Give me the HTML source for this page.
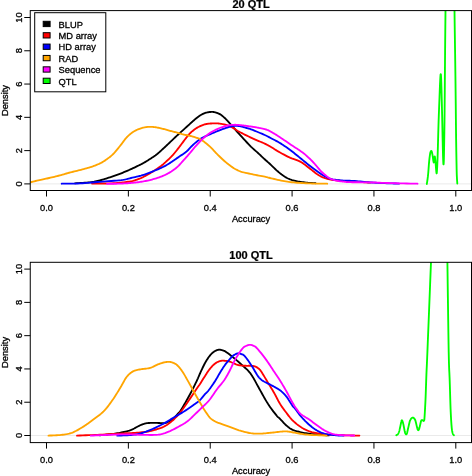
<!DOCTYPE html>
<html><head><meta charset="utf-8"><title>Density plots</title>
<style>
html,body{margin:0;padding:0;background:#fff;}
body{width:472px;height:476px;overflow:hidden;}
svg{display:block;will-change:transform;}
.t{font-family:"Liberation Sans",sans-serif;font-size:9.3px;fill:#000;stroke:#000;stroke-width:0.3px;}
.m{font-family:"Liberation Sans",sans-serif;font-size:11px;font-weight:bold;fill:#000;stroke:#000;stroke-width:0.25px;}
</style></head><body>
<svg width="472" height="476" viewBox="0 0 472 476">
<rect width="472" height="476" fill="#fff"/>
<clipPath id="c1"><rect x="30.25" y="10.6" width="441.25" height="179.9"/></clipPath>
<g clip-path="url(#c1)" fill="none" stroke-width="1.85" stroke-linejoin="round" stroke-linecap="round">
<line x1="30.25" y1="183.9" x2="471.5" y2="183.9" stroke="#dcdcdc" stroke-width="0.6"/>
<path d="M75.00,183.30 L76.91,183.18 L78.87,183.07 L80.84,182.97 L82.81,182.86 L84.74,182.75 L86.60,182.62 L88.36,182.47 L90.00,182.30 L91.49,182.10 L92.85,181.89 L94.12,181.67 L95.31,181.43 L96.47,181.17 L97.62,180.89 L98.78,180.60 L100.00,180.30 L101.24,179.98 L102.47,179.64 L103.70,179.29 L104.92,178.93 L106.16,178.54 L107.42,178.14 L108.69,177.73 L110.00,177.30 L111.35,176.85 L112.73,176.38 L114.14,175.90 L115.57,175.39 L117.00,174.88 L118.42,174.36 L119.83,173.83 L121.20,173.30 L122.54,172.77 L123.87,172.23 L125.18,171.68 L126.48,171.13 L127.78,170.56 L129.08,169.99 L130.38,169.40 L131.70,168.80 L133.05,168.18 L134.43,167.54 L135.83,166.87 L137.23,166.21 L138.61,165.54 L139.94,164.87 L141.21,164.23 L142.40,163.60 L143.50,163.00 L144.53,162.42 L145.49,161.85 L146.42,161.29 L147.32,160.73 L148.20,160.16 L149.09,159.59 L150.00,159.00 L150.92,158.41 L151.81,157.83 L152.70,157.24 L153.59,156.65 L154.47,156.04 L155.37,155.40 L156.27,154.72 L157.20,154.00 L158.15,153.22 L159.13,152.38 L160.12,151.51 L161.11,150.61 L162.11,149.69 L163.09,148.78 L164.06,147.87 L165.00,147.00 L165.92,146.14 L166.83,145.28 L167.73,144.42 L168.61,143.56 L169.48,142.72 L170.34,141.89 L171.18,141.08 L172.00,140.30 L172.79,139.55 L173.55,138.83 L174.29,138.14 L175.02,137.46 L175.74,136.79 L176.47,136.11 L177.22,135.42 L178.00,134.70 L178.81,133.96 L179.64,133.19 L180.50,132.41 L181.36,131.63 L182.22,130.85 L183.06,130.08 L183.90,129.33 L184.70,128.60 L185.48,127.90 L186.24,127.21 L186.99,126.53 L187.73,125.87 L188.46,125.22 L189.18,124.57 L189.89,123.93 L190.60,123.30 L191.30,122.67 L191.99,122.04 L192.67,121.42 L193.34,120.80 L194.01,120.20 L194.68,119.61 L195.34,119.04 L196.00,118.50 L196.66,117.97 L197.32,117.46 L197.98,116.96 L198.64,116.48 L199.29,116.02 L199.93,115.59 L200.57,115.18 L201.20,114.80 L201.81,114.45 L202.40,114.13 L202.99,113.84 L203.56,113.57 L204.14,113.32 L204.74,113.10 L205.35,112.89 L206.00,112.70 L206.69,112.53 L207.42,112.37 L208.17,112.24 L208.94,112.13 L209.70,112.03 L210.44,111.96 L211.14,111.92 L211.80,111.90 L212.40,111.91 L212.96,111.94 L213.49,112.00 L213.99,112.09 L214.49,112.19 L214.98,112.31 L215.48,112.45 L216.00,112.60 L216.53,112.76 L217.07,112.94 L217.61,113.12 L218.15,113.33 L218.69,113.56 L219.23,113.81 L219.77,114.09 L220.30,114.40 L220.83,114.74 L221.36,115.11 L221.88,115.51 L222.41,115.94 L222.93,116.38 L223.45,116.84 L223.98,117.32 L224.50,117.80 L225.00,118.27 L225.45,118.71 L225.89,119.15 L226.33,119.61 L226.81,120.13 L227.35,120.71 L227.97,121.39 L228.70,122.20 L229.53,123.12 L230.42,124.14 L231.39,125.23 L232.42,126.41 L233.52,127.66 L234.68,128.98 L235.91,130.36 L237.20,131.80 L238.62,133.37 L240.19,135.10 L241.86,136.95 L243.57,138.84 L245.29,140.71 L246.95,142.50 L248.50,144.15 L249.90,145.60 L251.14,146.84 L252.28,147.93 L253.34,148.89 L254.33,149.77 L255.27,150.59 L256.18,151.38 L257.09,152.17 L258.00,153.00 L258.91,153.85 L259.81,154.69 L260.68,155.51 L261.52,156.32 L262.35,157.10 L263.16,157.86 L263.94,158.60 L264.70,159.30 L265.41,159.94 L266.05,160.51 L266.65,161.03 L267.24,161.54 L267.84,162.07 L268.48,162.63 L269.19,163.27 L270.00,164.00 L270.91,164.86 L271.90,165.81 L272.95,166.85 L274.05,167.92 L275.17,169.00 L276.30,170.06 L277.42,171.07 L278.50,172.00 L279.56,172.87 L280.63,173.71 L281.69,174.53 L282.76,175.32 L283.82,176.06 L284.88,176.76 L285.94,177.41 L287.00,178.00 L288.04,178.52 L289.06,178.97 L290.06,179.37 L291.07,179.72 L292.09,180.04 L293.15,180.33 L294.25,180.62 L295.40,180.90 L296.63,181.18 L297.92,181.44 L299.26,181.67 L300.63,181.89 L302.01,182.10 L303.38,182.28 L304.71,182.45 L306.00,182.60 L307.24,182.73 L308.45,182.83 L309.64,182.91 L310.82,182.97 L311.99,183.02 L313.15,183.08 L314.32,183.13 L315.50,183.20" stroke="#000000"/>
<path d="M92.00,183.50 L94.30,183.49 L96.66,183.49 L99.06,183.49 L101.44,183.49 L103.76,183.49 L105.99,183.47 L108.08,183.45 L110.00,183.40 L111.71,183.34 L113.25,183.27 L114.65,183.18 L115.95,183.09 L117.20,182.98 L118.43,182.87 L119.68,182.74 L121.00,182.60 L122.38,182.45 L123.77,182.30 L125.18,182.14 L126.58,181.96 L127.95,181.77 L129.29,181.57 L130.58,181.34 L131.80,181.10 L132.96,180.83 L134.07,180.54 L135.14,180.24 L136.16,179.91 L137.16,179.57 L138.12,179.23 L139.07,178.87 L140.00,178.50 L140.90,178.13 L141.74,177.75 L142.56,177.36 L143.35,176.96 L144.14,176.55 L144.93,176.12 L145.75,175.67 L146.60,175.20 L147.49,174.71 L148.39,174.19 L149.32,173.66 L150.25,173.11 L151.19,172.55 L152.13,171.97 L153.07,171.39 L154.00,170.80 L154.94,170.19 L155.89,169.57 L156.85,168.93 L157.81,168.28 L158.76,167.63 L159.68,166.98 L160.56,166.33 L161.40,165.70 L162.18,165.08 L162.92,164.48 L163.62,163.88 L164.30,163.29 L164.96,162.69 L165.63,162.08 L166.30,161.45 L167.00,160.80 L167.71,160.14 L168.42,159.49 L169.13,158.83 L169.84,158.15 L170.56,157.45 L171.30,156.71 L172.04,155.93 L172.80,155.10 L173.58,154.21 L174.37,153.26 L175.18,152.27 L175.99,151.25 L176.82,150.20 L177.64,149.14 L178.47,148.07 L179.30,147.00 L180.15,145.90 L181.02,144.74 L181.92,143.54 L182.81,142.34 L183.68,141.17 L184.51,140.06 L185.29,139.02 L186.00,138.10 L186.62,137.30 L187.17,136.59 L187.67,135.96 L188.13,135.39 L188.57,134.86 L189.01,134.35 L189.48,133.83 L190.00,133.30 L190.56,132.75 L191.14,132.21 L191.73,131.68 L192.33,131.16 L192.94,130.66 L193.54,130.18 L194.13,129.73 L194.70,129.30 L195.25,128.90 L195.79,128.54 L196.31,128.20 L196.83,127.88 L197.35,127.58 L197.89,127.28 L198.43,126.99 L199.00,126.70 L199.59,126.41 L200.19,126.11 L200.80,125.83 L201.43,125.55 L202.06,125.28 L202.70,125.04 L203.35,124.81 L204.00,124.60 L204.65,124.42 L205.29,124.25 L205.94,124.11 L206.59,123.98 L207.27,123.87 L207.97,123.77 L208.71,123.68 L209.50,123.60 L210.35,123.53 L211.27,123.47 L212.23,123.42 L213.22,123.39 L214.21,123.37 L215.18,123.36 L216.12,123.37 L217.00,123.40 L217.82,123.45 L218.61,123.51 L219.36,123.59 L220.09,123.69 L220.82,123.80 L221.54,123.92 L222.26,124.05 L223.00,124.20 L223.76,124.35 L224.52,124.52 L225.29,124.69 L226.06,124.88 L226.82,125.08 L227.57,125.30 L228.30,125.54 L229.00,125.80 L229.67,126.08 L230.31,126.38 L230.94,126.71 L231.54,127.04 L232.15,127.40 L232.75,127.76 L233.37,128.13 L234.00,128.50 L234.60,128.86 L235.13,129.21 L235.64,129.56 L236.17,129.93 L236.76,130.32 L237.45,130.75 L238.28,131.24 L239.30,131.80 L240.53,132.45 L241.95,133.18 L243.52,133.98 L245.19,134.81 L246.91,135.66 L248.65,136.51 L250.36,137.33 L252.00,138.10 L253.63,138.84 L255.32,139.58 L257.04,140.31 L258.75,141.03 L260.41,141.73 L261.98,142.39 L263.42,143.02 L264.70,143.60 L265.79,144.12 L266.70,144.57 L267.48,144.98 L268.17,145.36 L268.83,145.73 L269.49,146.11 L270.20,146.53 L271.00,147.00 L271.86,147.51 L272.72,148.04 L273.59,148.59 L274.49,149.16 L275.42,149.75 L276.39,150.35 L277.41,150.97 L278.50,151.60 L279.67,152.26 L280.91,152.96 L282.21,153.69 L283.55,154.42 L284.92,155.16 L286.29,155.87 L287.66,156.56 L289.00,157.20 L290.36,157.80 L291.79,158.37 L293.24,158.91 L294.67,159.44 L296.07,159.95 L297.40,160.44 L298.62,160.92 L299.70,161.40 L300.62,161.86 L301.40,162.29 L302.08,162.70 L302.69,163.11 L303.25,163.51 L303.80,163.92 L304.37,164.35 L305.00,164.80 L305.64,165.26 L306.25,165.72 L306.85,166.19 L307.46,166.67 L308.09,167.17 L308.76,167.70 L309.49,168.28 L310.30,168.90 L311.20,169.60 L312.18,170.38 L313.22,171.22 L314.30,172.08 L315.41,172.94 L316.52,173.76 L317.62,174.53 L318.70,175.20 L319.74,175.79 L320.77,176.33 L321.79,176.83 L322.81,177.29 L323.85,177.71 L324.92,178.10 L326.04,178.46 L327.20,178.80 L328.38,179.11 L329.55,179.37 L330.74,179.60 L331.98,179.81 L333.27,179.99 L334.66,180.16 L336.16,180.33 L337.80,180.50 L339.62,180.67 L341.62,180.82 L343.75,180.96 L345.96,181.09 L348.20,181.22 L350.44,181.35 L352.62,181.47 L354.70,181.60 L356.69,181.73 L358.64,181.86 L360.55,181.98 L362.45,182.11 L364.33,182.23 L366.21,182.35 L368.10,182.48 L370.00,182.60" stroke="#ff0000"/>
<path d="M61.70,183.70 L63.98,183.67 L66.24,183.66 L68.49,183.64 L70.74,183.63 L73.01,183.61 L75.31,183.57 L77.63,183.50 L80.00,183.40 L82.41,183.26 L84.85,183.09 L87.32,182.90 L89.82,182.69 L92.34,182.46 L94.88,182.24 L97.43,182.01 L100.00,181.80 L102.67,181.60 L105.48,181.39 L108.36,181.19 L111.24,180.98 L114.03,180.77 L116.67,180.56 L119.09,180.33 L121.20,180.10 L122.96,179.86 L124.41,179.62 L125.64,179.37 L126.71,179.12 L127.71,178.86 L128.70,178.58 L129.78,178.30 L131.00,178.00 L132.35,177.69 L133.76,177.37 L135.19,177.05 L136.65,176.71 L138.11,176.36 L139.57,175.99 L141.00,175.61 L142.40,175.20 L143.76,174.77 L145.11,174.32 L146.43,173.85 L147.75,173.36 L149.06,172.86 L150.37,172.35 L151.68,171.83 L153.00,171.30 L154.35,170.76 L155.72,170.19 L157.12,169.62 L158.50,169.03 L159.86,168.44 L161.18,167.85 L162.43,167.27 L163.60,166.70 L164.68,166.15 L165.68,165.60 L166.61,165.07 L167.50,164.53 L168.37,163.99 L169.22,163.44 L170.10,162.88 L171.00,162.30 L171.92,161.70 L172.83,161.09 L173.74,160.47 L174.66,159.83 L175.57,159.19 L176.50,158.53 L177.44,157.87 L178.40,157.20 L179.39,156.52 L180.43,155.82 L181.49,155.12 L182.55,154.40 L183.60,153.68 L184.62,152.95 L185.59,152.23 L186.50,151.50 L187.34,150.76 L188.14,150.00 L188.89,149.22 L189.61,148.45 L190.31,147.69 L190.98,146.95 L191.64,146.25 L192.30,145.60 L192.94,145.00 L193.55,144.43 L194.14,143.90 L194.71,143.39 L195.28,142.91 L195.84,142.43 L196.42,141.97 L197.00,141.50 L197.56,141.05 L198.07,140.63 L198.56,140.23 L199.07,139.83 L199.61,139.43 L200.23,139.02 L200.95,138.58 L201.80,138.10 L202.80,137.58 L203.92,137.03 L205.14,136.45 L206.44,135.86 L207.78,135.26 L209.14,134.66 L210.49,134.07 L211.80,133.50 L213.13,132.93 L214.53,132.35 L215.95,131.76 L217.38,131.18 L218.76,130.62 L220.09,130.10 L221.31,129.62 L222.40,129.20 L223.34,128.84 L224.17,128.54 L224.89,128.28 L225.55,128.06 L226.16,127.86 L226.76,127.67 L227.36,127.49 L228.00,127.30 L228.66,127.11 L229.32,126.93 L229.96,126.75 L230.60,126.59 L231.22,126.45 L231.83,126.31 L232.43,126.20 L233.00,126.10 L233.55,126.02 L234.06,125.96 L234.56,125.92 L235.04,125.89 L235.51,125.87 L236.00,125.87 L236.49,125.88 L237.00,125.90 L237.53,125.93 L238.07,125.98 L238.61,126.04 L239.16,126.11 L239.72,126.19 L240.28,126.28 L240.84,126.39 L241.40,126.50 L241.96,126.62 L242.50,126.76 L243.05,126.91 L243.60,127.07 L244.16,127.24 L244.75,127.42 L245.36,127.60 L246.00,127.80 L246.64,127.99 L247.24,128.15 L247.85,128.32 L248.49,128.50 L249.20,128.71 L250.00,128.97 L250.92,129.30 L252.00,129.70 L253.30,130.21 L254.83,130.82 L256.51,131.51 L258.27,132.24 L260.04,132.98 L261.75,133.71 L263.33,134.39 L264.70,135.00 L265.86,135.53 L266.87,136.01 L267.78,136.46 L268.61,136.89 L269.40,137.31 L270.21,137.74 L271.06,138.20 L272.00,138.70 L273.00,139.22 L274.01,139.74 L275.04,140.27 L276.09,140.82 L277.17,141.40 L278.28,142.01 L279.42,142.68 L280.60,143.40 L281.83,144.19 L283.11,145.03 L284.43,145.93 L285.78,146.86 L287.14,147.83 L288.50,148.81 L289.86,149.80 L291.20,150.80 L292.52,151.81 L293.85,152.85 L295.18,153.91 L296.50,154.98 L297.82,156.06 L299.15,157.15 L300.47,158.23 L301.80,159.30 L303.12,160.37 L304.45,161.45 L305.78,162.54 L307.10,163.62 L308.43,164.69 L309.75,165.75 L311.07,166.79 L312.40,167.80 L313.74,168.80 L315.10,169.81 L316.47,170.81 L317.84,171.79 L319.19,172.74 L320.50,173.63 L321.78,174.45 L323.00,175.20 L324.14,175.86 L325.20,176.46 L326.21,176.99 L327.20,177.47 L328.19,177.90 L329.20,178.30 L330.26,178.66 L331.40,179.00 L332.61,179.30 L333.85,179.56 L335.12,179.77 L336.43,179.96 L337.77,180.11 L339.15,180.25 L340.56,180.38 L342.00,180.50 L343.47,180.60 L344.97,180.67 L346.49,180.72 L348.06,180.76 L349.65,180.79 L351.29,180.84 L352.97,180.90 L354.70,181.00 L356.49,181.14 L358.35,181.30 L360.26,181.49 L362.21,181.68 L364.17,181.88 L366.14,182.07 L368.08,182.25 L370.00,182.40 L371.90,182.53 L373.79,182.65 L375.69,182.76 L377.58,182.86 L379.46,182.96 L381.33,183.04 L383.17,183.12 L385.00,183.20 L386.80,183.27 L388.57,183.33 L390.32,183.38 L392.06,183.42 L393.79,183.47 L395.52,183.51 L397.26,183.55 L399.00,183.60" stroke="#0000ff"/>
<path d="M30.30,182.30 L31.61,181.98 L32.94,181.66 L34.28,181.33 L35.62,181.01 L36.94,180.69 L38.23,180.38 L39.49,180.08 L40.70,179.80 L41.84,179.55 L42.91,179.32 L43.93,179.11 L44.94,178.91 L45.94,178.70 L46.97,178.49 L48.05,178.26 L49.20,178.00 L50.42,177.72 L51.70,177.42 L53.02,177.10 L54.37,176.78 L55.73,176.44 L57.10,176.10 L58.46,175.75 L59.80,175.40 L61.12,175.04 L62.45,174.67 L63.77,174.29 L65.10,173.90 L66.42,173.51 L67.75,173.13 L69.08,172.76 L70.40,172.40 L71.73,172.06 L73.05,171.73 L74.38,171.41 L75.70,171.10 L77.03,170.79 L78.35,170.47 L79.68,170.14 L81.00,169.80 L82.34,169.45 L83.70,169.09 L85.07,168.72 L86.44,168.35 L87.79,167.97 L89.10,167.59 L90.38,167.20 L91.60,166.80 L92.77,166.40 L93.91,165.98 L95.02,165.56 L96.09,165.14 L97.12,164.71 L98.12,164.27 L99.08,163.84 L100.00,163.40 L100.86,162.97 L101.64,162.57 L102.37,162.16 L103.07,161.75 L103.77,161.32 L104.47,160.86 L105.21,160.36 L106.00,159.80 L106.85,159.20 L107.73,158.56 L108.63,157.88 L109.55,157.18 L110.48,156.43 L111.40,155.66 L112.31,154.85 L113.20,154.00 L114.07,153.11 L114.93,152.17 L115.79,151.18 L116.64,150.17 L117.48,149.13 L118.32,148.09 L119.16,147.04 L120.00,146.00 L120.84,144.94 L121.67,143.84 L122.50,142.72 L123.32,141.59 L124.15,140.49 L124.97,139.43 L125.79,138.42 L126.60,137.50 L127.41,136.65 L128.21,135.86 L129.01,135.12 L129.81,134.42 L130.60,133.76 L131.40,133.14 L132.20,132.56 L133.00,132.00 L133.81,131.48 L134.64,131.00 L135.47,130.56 L136.31,130.15 L137.13,129.77 L137.94,129.43 L138.73,129.10 L139.50,128.80 L140.24,128.52 L140.95,128.28 L141.64,128.07 L142.33,127.88 L143.00,127.71 L143.66,127.56 L144.33,127.43 L145.00,127.30 L145.67,127.18 L146.32,127.08 L146.96,126.99 L147.61,126.92 L148.26,126.86 L148.92,126.82 L149.60,126.80 L150.30,126.80 L151.03,126.82 L151.77,126.85 L152.52,126.90 L153.29,126.97 L154.07,127.05 L154.87,127.15 L155.68,127.27 L156.50,127.40 L157.35,127.55 L158.23,127.73 L159.13,127.92 L160.04,128.12 L160.95,128.34 L161.85,128.56 L162.74,128.78 L163.60,129.00 L164.43,129.22 L165.25,129.44 L166.06,129.67 L166.85,129.90 L167.64,130.13 L168.42,130.36 L169.21,130.58 L170.00,130.80 L170.79,131.01 L171.57,131.20 L172.35,131.40 L173.13,131.59 L173.91,131.78 L174.70,131.98 L175.49,132.18 L176.30,132.40 L177.11,132.63 L177.93,132.88 L178.74,133.14 L179.57,133.40 L180.40,133.66 L181.25,133.92 L182.12,134.17 L183.00,134.40 L183.92,134.62 L184.89,134.83 L185.88,135.03 L186.88,135.23 L187.87,135.42 L188.83,135.61 L189.75,135.80 L190.60,136.00 L191.38,136.20 L192.11,136.39 L192.79,136.57 L193.45,136.76 L194.09,136.96 L194.72,137.16 L195.35,137.37 L196.00,137.60 L196.64,137.82 L197.24,138.00 L197.82,138.19 L198.41,138.39 L199.02,138.63 L199.67,138.93 L200.39,139.31 L201.20,139.80 L202.11,140.40 L203.10,141.09 L204.15,141.86 L205.25,142.69 L206.37,143.58 L207.50,144.50 L208.62,145.44 L209.70,146.40 L210.74,147.38 L211.76,148.41 L212.76,149.47 L213.77,150.57 L214.79,151.69 L215.85,152.82 L216.95,153.96 L218.10,155.10 L219.32,156.27 L220.60,157.49 L221.91,158.74 L223.26,159.99 L224.63,161.23 L226.00,162.42 L227.36,163.56 L228.70,164.60 L230.01,165.57 L231.30,166.49 L232.58,167.37 L233.87,168.19 L235.17,168.97 L236.50,169.70 L237.87,170.37 L239.30,171.00 L240.79,171.56 L242.33,172.04 L243.91,172.47 L245.52,172.84 L247.15,173.19 L248.78,173.52 L250.40,173.86 L252.00,174.20 L253.64,174.55 L255.35,174.90 L257.09,175.24 L258.81,175.57 L260.48,175.88 L262.05,176.18 L263.47,176.45 L264.70,176.70 L265.67,176.91 L266.37,177.07 L266.90,177.21 L267.35,177.32 L267.80,177.45 L268.33,177.59 L269.03,177.77 L270.00,178.00 L271.23,178.29 L272.65,178.64 L274.22,179.02 L275.89,179.43 L277.61,179.83 L279.35,180.22 L281.06,180.58 L282.70,180.90 L284.26,181.18 L285.77,181.43 L287.27,181.66 L288.78,181.88 L290.32,182.07 L291.92,182.26 L293.61,182.43 L295.40,182.60 L297.33,182.76 L299.40,182.90 L301.56,183.03 L303.77,183.14 L306.00,183.25 L308.20,183.34 L310.35,183.43 L312.40,183.50 L314.36,183.56 L316.25,183.60 L318.11,183.63 L319.94,183.64 L321.75,183.66 L323.55,183.67 L325.37,183.68 L327.20,183.70" stroke="#ffa500"/>
<path d="M107.00,183.80 L108.79,183.78 L110.61,183.76 L112.43,183.75 L114.25,183.74 L116.05,183.72 L117.82,183.69 L119.54,183.65 L121.20,183.60 L122.81,183.53 L124.38,183.45 L125.91,183.36 L127.40,183.26 L128.86,183.16 L130.27,183.04 L131.66,182.92 L133.00,182.80 L134.30,182.67 L135.54,182.54 L136.74,182.41 L137.90,182.26 L139.04,182.11 L140.16,181.95 L141.28,181.78 L142.40,181.60 L143.52,181.41 L144.61,181.21 L145.70,181.00 L146.77,180.78 L147.83,180.55 L148.89,180.31 L149.94,180.06 L151.00,179.80 L152.06,179.52 L153.13,179.23 L154.20,178.93 L155.27,178.61 L156.32,178.29 L157.34,177.96 L158.34,177.63 L159.30,177.30 L160.22,176.97 L161.10,176.64 L161.96,176.30 L162.79,175.96 L163.61,175.61 L164.41,175.26 L165.21,174.89 L166.00,174.50 L166.79,174.10 L167.56,173.69 L168.32,173.27 L169.07,172.84 L169.82,172.39 L170.55,171.94 L171.28,171.48 L172.00,171.00 L172.71,170.52 L173.42,170.03 L174.12,169.53 L174.81,169.02 L175.49,168.49 L176.16,167.95 L176.84,167.39 L177.50,166.80 L178.14,166.20 L178.75,165.60 L179.34,164.99 L179.93,164.36 L180.54,163.70 L181.17,162.99 L181.86,162.23 L182.60,161.40 L183.43,160.47 L184.36,159.44 L185.33,158.34 L186.34,157.21 L187.34,156.07 L188.30,154.97 L189.20,153.93 L190.00,153.00 L190.71,152.16 L191.35,151.39 L191.93,150.66 L192.47,149.98 L192.99,149.33 L193.49,148.71 L193.99,148.10 L194.50,147.50 L195.01,146.92 L195.50,146.37 L195.98,145.85 L196.45,145.35 L196.91,144.86 L197.37,144.38 L197.83,143.89 L198.30,143.40 L198.77,142.90 L199.23,142.40 L199.68,141.91 L200.14,141.41 L200.59,140.92 L201.06,140.44 L201.52,139.97 L202.00,139.50 L202.48,139.04 L202.97,138.59 L203.46,138.15 L203.95,137.72 L204.45,137.29 L204.96,136.86 L205.47,136.43 L206.00,136.00 L206.53,135.57 L207.07,135.13 L207.61,134.70 L208.16,134.26 L208.72,133.83 L209.29,133.41 L209.89,133.00 L210.50,132.60 L211.14,132.21 L211.82,131.82 L212.51,131.45 L213.22,131.07 L213.93,130.71 L214.64,130.36 L215.33,130.03 L216.00,129.70 L216.64,129.39 L217.27,129.09 L217.89,128.80 L218.49,128.53 L219.10,128.26 L219.72,128.00 L220.35,127.75 L221.00,127.50 L221.68,127.26 L222.39,127.02 L223.11,126.79 L223.84,126.56 L224.56,126.35 L225.27,126.15 L225.95,125.97 L226.60,125.80 L227.20,125.65 L227.77,125.52 L228.31,125.41 L228.83,125.31 L229.35,125.22 L229.88,125.14 L230.42,125.07 L231.00,125.00 L231.60,124.94 L232.21,124.89 L232.83,124.85 L233.46,124.82 L234.10,124.80 L234.75,124.79 L235.42,124.79 L236.10,124.80 L236.80,124.83 L237.52,124.87 L238.26,124.92 L239.01,124.99 L239.76,125.06 L240.51,125.14 L241.26,125.22 L242.00,125.30 L242.73,125.38 L243.45,125.48 L244.16,125.57 L244.88,125.67 L245.60,125.78 L246.32,125.89 L247.06,125.99 L247.80,126.10 L248.55,126.21 L249.31,126.31 L250.08,126.42 L250.86,126.52 L251.64,126.64 L252.42,126.75 L253.21,126.87 L254.00,127.00 L254.81,127.14 L255.65,127.28 L256.50,127.44 L257.36,127.59 L258.20,127.75 L259.01,127.91 L259.78,128.06 L260.50,128.20 L261.16,128.33 L261.78,128.45 L262.36,128.57 L262.91,128.68 L263.44,128.80 L263.96,128.92 L264.48,129.05 L265.00,129.20 L265.51,129.35 L266.00,129.50 L266.47,129.66 L266.94,129.82 L267.41,130.00 L267.91,130.20 L268.43,130.43 L269.00,130.70 L269.61,131.01 L270.26,131.34 L270.93,131.71 L271.62,132.10 L272.33,132.51 L273.05,132.93 L273.77,133.36 L274.50,133.80 L275.20,134.23 L275.88,134.64 L276.55,135.06 L277.23,135.49 L277.96,135.96 L278.74,136.47 L279.62,137.05 L280.60,137.70 L281.71,138.44 L282.93,139.27 L284.25,140.17 L285.62,141.11 L287.03,142.07 L288.44,143.04 L289.84,143.99 L291.20,144.90 L292.56,145.80 L293.98,146.73 L295.41,147.66 L296.84,148.58 L298.22,149.48 L299.53,150.34 L300.73,151.16 L301.80,151.90 L302.71,152.56 L303.48,153.14 L304.14,153.67 L304.73,154.16 L305.27,154.64 L305.81,155.12 L306.38,155.64 L307.00,156.20 L307.67,156.81 L308.37,157.45 L309.07,158.11 L309.77,158.78 L310.46,159.45 L311.14,160.12 L311.79,160.77 L312.40,161.40 L312.97,162.00 L313.51,162.58 L314.02,163.15 L314.52,163.71 L315.00,164.27 L315.49,164.84 L315.99,165.41 L316.50,166.00 L317.03,166.61 L317.56,167.25 L318.10,167.90 L318.64,168.55 L319.19,169.20 L319.73,169.82 L320.27,170.43 L320.80,171.00 L321.33,171.54 L321.85,172.05 L322.38,172.54 L322.90,173.01 L323.42,173.47 L323.95,173.92 L324.47,174.36 L325.00,174.80 L325.53,175.24 L326.07,175.68 L326.61,176.11 L327.15,176.53 L327.69,176.93 L328.23,177.31 L328.77,177.67 L329.30,178.00 L329.83,178.30 L330.35,178.56 L330.88,178.81 L331.40,179.03 L331.92,179.24 L332.45,179.43 L332.97,179.62 L333.50,179.80 L334.02,179.97 L334.52,180.13 L335.02,180.28 L335.53,180.41 L336.04,180.54 L336.59,180.66 L337.17,180.78 L337.80,180.90 L338.48,181.02 L339.21,181.13 L339.97,181.24 L340.76,181.34 L341.57,181.44 L342.38,181.53 L343.20,181.62 L344.00,181.70 L344.71,181.78 L345.30,181.85 L345.84,181.92 L346.42,181.99 L347.10,182.05 L347.95,182.10 L349.06,182.15 L350.50,182.20 L352.31,182.24 L354.45,182.26 L356.84,182.27 L359.41,182.29 L362.08,182.30 L364.79,182.32 L367.45,182.35 L370.00,182.40 L372.42,182.46 L374.79,182.54 L377.13,182.63 L379.50,182.72 L381.93,182.82 L384.46,182.92 L387.14,183.01 L390.00,183.10 L393.08,183.18 L396.35,183.26 L399.76,183.33 L403.28,183.41 L406.86,183.48 L410.45,183.55 L414.01,183.63 L417.50,183.70" stroke="#ff00ff"/>
<path d="M426.80,184.00 L426.89,183.45 L426.98,182.91 L427.06,182.38 L427.15,181.84 L427.24,181.30 L427.32,180.73 L427.41,180.13 L427.50,179.50 L427.59,178.86 L427.67,178.23 L427.75,177.60 L427.84,176.94 L427.92,176.22 L428.01,175.42 L428.10,174.52 L428.20,173.50 L428.30,172.30 L428.41,170.93 L428.52,169.45 L428.63,167.89 L428.75,166.31 L428.86,164.77 L428.98,163.32 L429.10,162.00 L429.22,160.78 L429.35,159.58 L429.48,158.42 L429.61,157.32 L429.74,156.30 L429.87,155.36 L429.99,154.52 L430.10,153.80 L430.20,153.22 L430.30,152.77 L430.39,152.43 L430.48,152.17 L430.56,151.97 L430.64,151.81 L430.72,151.66 L430.80,151.50 L430.88,151.34 L430.96,151.20 L431.03,151.09 L431.11,151.01 L431.18,150.96 L431.25,150.94 L431.33,150.95 L431.40,151.00 L431.47,151.07 L431.55,151.17 L431.62,151.29 L431.69,151.45 L431.76,151.64 L431.84,151.88 L431.92,152.16 L432.00,152.50 L432.09,152.91 L432.19,153.39 L432.30,153.93 L432.41,154.51 L432.51,155.11 L432.62,155.70 L432.71,156.27 L432.80,156.80 L432.88,157.30 L432.95,157.81 L433.01,158.31 L433.07,158.79 L433.13,159.26 L433.18,159.71 L433.24,160.12 L433.30,160.50 L433.36,160.86 L433.43,161.23 L433.49,161.57 L433.56,161.89 L433.62,162.15 L433.68,162.36 L433.74,162.48 L433.80,162.50 L433.85,162.41 L433.90,162.22 L433.95,161.94 L434.00,161.60 L434.05,161.22 L434.10,160.81 L434.15,160.40 L434.20,160.00 L434.26,159.56 L434.32,159.03 L434.38,158.46 L434.44,157.88 L434.51,157.34 L434.57,156.89 L434.64,156.56 L434.70,156.40 L434.76,156.41 L434.82,156.55 L434.89,156.80 L434.95,157.14 L435.01,157.55 L435.07,158.01 L435.14,158.50 L435.20,159.00 L435.26,159.54 L435.32,160.14 L435.39,160.79 L435.45,161.48 L435.51,162.20 L435.57,162.94 L435.64,163.67 L435.70,164.40 L435.76,165.15 L435.83,165.95 L435.89,166.78 L435.96,167.61 L436.02,168.42 L436.08,169.18 L436.14,169.89 L436.20,170.50 L436.25,171.06 L436.31,171.60 L436.36,172.10 L436.41,172.54 L436.45,172.91 L436.50,173.19 L436.55,173.36 L436.60,173.40 L436.65,173.34 L436.70,173.22 L436.74,173.02 L436.79,172.71 L436.84,172.27 L436.89,171.69 L436.94,170.94 L437.00,170.00 L437.06,168.95 L437.13,167.83 L437.20,166.60 L437.27,165.20 L437.34,163.57 L437.42,161.67 L437.51,159.43 L437.60,156.80 L437.70,153.63 L437.80,149.91 L437.92,145.78 L438.03,141.41 L438.15,136.95 L438.27,132.56 L438.39,128.39 L438.50,124.60 L438.61,121.13 L438.73,117.81 L438.84,114.62 L438.96,111.54 L439.07,108.55 L439.18,105.65 L439.29,102.80 L439.40,100.00 L439.51,97.18 L439.61,94.34 L439.72,91.54 L439.82,88.82 L439.93,86.26 L440.02,83.89 L440.12,81.79 L440.20,80.00 L440.28,78.52 L440.35,77.28 L440.41,76.28 L440.47,75.49 L440.53,74.90 L440.58,74.50 L440.64,74.27 L440.70,74.20 L440.76,74.20 L440.82,74.27 L440.87,74.46 L440.93,74.86 L440.99,75.54 L441.05,76.58 L441.12,78.04 L441.20,80.00 L441.29,82.61 L441.38,85.85 L441.49,89.57 L441.59,93.62 L441.70,97.84 L441.81,102.08 L441.91,106.19 L442.00,110.00 L442.09,113.64 L442.17,117.31 L442.24,120.96 L442.32,124.57 L442.39,128.10 L442.46,131.52 L442.53,134.80 L442.60,137.90 L442.67,140.88 L442.73,143.79 L442.80,146.61 L442.86,149.29 L442.92,151.81 L442.98,154.12 L443.04,156.20 L443.10,158.00 L443.15,159.54 L443.21,160.86 L443.26,161.97 L443.31,162.86 L443.35,163.54 L443.40,164.02 L443.45,164.31 L443.50,164.40 L443.55,164.37 L443.60,164.24 L443.65,163.96 L443.69,163.45 L443.74,162.66 L443.79,161.53 L443.85,160.00 L443.90,158.00 L443.96,155.40 L444.02,152.20 L444.09,148.55 L444.16,144.58 L444.22,140.43 L444.29,136.26 L444.35,132.20 L444.40,128.40 L444.45,124.94 L444.49,121.72 L444.52,118.61 L444.56,115.48 L444.59,112.18 L444.62,108.59 L444.66,104.58 L444.70,100.00 L444.75,94.72 L444.79,88.78 L444.84,82.39 L444.89,75.72 L444.95,68.97 L445.00,62.30 L445.05,55.92 L445.10,50.00 L445.15,44.73 L445.19,40.00 L445.24,35.59 L445.28,31.25 L445.33,26.76 L445.38,21.88 L445.44,16.37 L445.50,10.00 L445.57,2.69 L445.65,-5.39 L445.74,-14.05 L445.83,-23.12 L445.92,-32.43 L446.02,-41.80 L446.11,-51.04 L446.20,-60.00" stroke="#00ff00"/>
<path d="M453.80,-60.00 L453.89,-51.16 L453.97,-42.20 L454.06,-33.18 L454.14,-24.19 L454.23,-15.30 L454.32,-6.59 L454.41,1.87 L454.50,10.00 L454.60,17.91 L454.70,25.73 L454.81,33.38 L454.92,40.81 L455.02,47.95 L455.13,54.74 L455.22,61.11 L455.30,67.00 L455.37,72.24 L455.43,76.82 L455.48,80.92 L455.53,84.69 L455.57,88.32 L455.61,91.97 L455.65,95.80 L455.70,100.00 L455.75,104.53 L455.80,109.22 L455.84,114.02 L455.89,118.89 L455.94,123.76 L455.99,128.58 L456.04,133.32 L456.10,137.90 L456.17,142.49 L456.24,147.20 L456.31,151.92 L456.39,156.54 L456.47,160.96 L456.55,165.07 L456.62,168.75 L456.70,171.90 L456.77,174.42 L456.85,176.38 L456.93,177.89 L457.00,179.10 L457.07,180.13 L457.15,181.12 L457.22,182.20 L457.30,183.50" stroke="#00ff00"/>
</g>
<rect x="30.25" y="10.6" width="441.25" height="179.9" fill="none" stroke="#000" stroke-width="1"/>
<line x1="46.50" y1="190.5" x2="46.50" y2="196.5" stroke="#000" stroke-width="1"/>
<text transform="translate(46.50,211.35) scale(1,1.03)" text-anchor="middle" class="t">0.0</text>
<line x1="128.36" y1="190.5" x2="128.36" y2="196.5" stroke="#000" stroke-width="1"/>
<text transform="translate(128.36,211.35) scale(1,1.03)" text-anchor="middle" class="t">0.2</text>
<line x1="210.22" y1="190.5" x2="210.22" y2="196.5" stroke="#000" stroke-width="1"/>
<text transform="translate(210.22,211.35) scale(1,1.03)" text-anchor="middle" class="t">0.4</text>
<line x1="292.08" y1="190.5" x2="292.08" y2="196.5" stroke="#000" stroke-width="1"/>
<text transform="translate(292.08,211.35) scale(1,1.03)" text-anchor="middle" class="t">0.6</text>
<line x1="373.94" y1="190.5" x2="373.94" y2="196.5" stroke="#000" stroke-width="1"/>
<text transform="translate(373.94,211.35) scale(1,1.03)" text-anchor="middle" class="t">0.8</text>
<line x1="455.80" y1="190.5" x2="455.80" y2="196.5" stroke="#000" stroke-width="1"/>
<text transform="translate(455.80,211.35) scale(1,1.03)" text-anchor="middle" class="t">1.0</text>
<line x1="24.25" y1="183.90" x2="30.25" y2="183.90" stroke="#000" stroke-width="1"/>
<text transform="translate(21.7,183.90) rotate(-90) scale(1,1.03)" text-anchor="middle" class="t">0</text>
<line x1="24.25" y1="150.62" x2="30.25" y2="150.62" stroke="#000" stroke-width="1"/>
<text transform="translate(21.7,150.62) rotate(-90) scale(1,1.03)" text-anchor="middle" class="t">2</text>
<line x1="24.25" y1="117.34" x2="30.25" y2="117.34" stroke="#000" stroke-width="1"/>
<text transform="translate(21.7,117.34) rotate(-90) scale(1,1.03)" text-anchor="middle" class="t">4</text>
<line x1="24.25" y1="84.06" x2="30.25" y2="84.06" stroke="#000" stroke-width="1"/>
<text transform="translate(21.7,84.06) rotate(-90) scale(1,1.03)" text-anchor="middle" class="t">6</text>
<line x1="24.25" y1="50.78" x2="30.25" y2="50.78" stroke="#000" stroke-width="1"/>
<text transform="translate(21.7,50.78) rotate(-90) scale(1,1.03)" text-anchor="middle" class="t">8</text>
<line x1="24.25" y1="17.50" x2="30.25" y2="17.50" stroke="#000" stroke-width="1"/>
<text transform="translate(21.7,17.50) rotate(-90) scale(1,1.03)" text-anchor="middle" class="t">10</text>
<text transform="translate(7.5,100.55) rotate(-90) scale(1,1.03)" text-anchor="middle" class="t">Density</text>
<text transform="translate(251,222.30) scale(1,1.03)" text-anchor="middle" class="t">Accuracy</text>
<text transform="translate(251,7.60) scale(1,0.92)" text-anchor="middle" class="m">20 QTL</text>
<rect x="34.7" y="12.7" width="71.1" height="79.1" fill="#fff" stroke="#000" stroke-width="1"/>
<rect x="43.2" y="21.30" width="6.9" height="5.3" fill="#000000" stroke="#000" stroke-width="1"/>
<text transform="translate(58.6,27.70) scale(1,1.03)" class="t">BLUP</text>
<rect x="43.2" y="32.68" width="6.9" height="5.3" fill="#ff0000" stroke="#000" stroke-width="1"/>
<text transform="translate(58.6,39.08) scale(1,1.03)" class="t">MD array</text>
<rect x="43.2" y="44.06" width="6.9" height="5.3" fill="#0000ff" stroke="#000" stroke-width="1"/>
<text transform="translate(58.6,50.46) scale(1,1.03)" class="t">HD array</text>
<rect x="43.2" y="55.44" width="6.9" height="5.3" fill="#ffa500" stroke="#000" stroke-width="1"/>
<text transform="translate(58.6,61.84) scale(1,1.03)" class="t">RAD</text>
<rect x="43.2" y="66.82" width="6.9" height="5.3" fill="#ff00ff" stroke="#000" stroke-width="1"/>
<text transform="translate(58.6,73.22) scale(1,1.03)" class="t">Sequence</text>
<rect x="43.2" y="78.20" width="6.9" height="5.3" fill="#00ff00" stroke="#000" stroke-width="1"/>
<text transform="translate(58.6,84.60) scale(1,1.03)" class="t">QTL</text>
<clipPath id="c2"><rect x="30.25" y="262.3" width="441.25" height="180.3"/></clipPath>
<g clip-path="url(#c2)" fill="none" stroke-width="1.85" stroke-linejoin="round" stroke-linecap="round">
<line x1="30.25" y1="435.5" x2="471.5" y2="435.5" stroke="#dcdcdc" stroke-width="0.6"/>
<path d="M100.00,435.30 L101.25,435.18 L102.50,435.06 L103.75,434.95 L105.00,434.83 L106.25,434.71 L107.50,434.59 L108.75,434.45 L110.00,434.30 L111.25,434.14 L112.49,433.99 L113.72,433.83 L114.96,433.66 L116.21,433.47 L117.46,433.27 L118.72,433.05 L120.00,432.80 L121.31,432.53 L122.66,432.25 L124.02,431.95 L125.39,431.62 L126.75,431.28 L128.08,430.92 L129.37,430.52 L130.60,430.10 L131.79,429.62 L132.98,429.07 L134.14,428.49 L135.27,427.88 L136.34,427.29 L137.35,426.72 L138.27,426.22 L139.10,425.80 L139.80,425.47 L140.38,425.20 L140.87,424.98 L141.30,424.80 L141.70,424.64 L142.09,424.50 L142.52,424.36 L143.00,424.20 L143.51,424.03 L143.99,423.87 L144.47,423.71 L144.96,423.56 L145.49,423.42 L146.08,423.30 L146.74,423.19 L147.50,423.10 L148.37,423.03 L149.34,422.98 L150.39,422.94 L151.50,422.92 L152.64,422.91 L153.78,422.90 L154.91,422.90 L156.00,422.90 L157.09,422.92 L158.22,422.96 L159.36,423.02 L160.50,423.09 L161.61,423.14 L162.66,423.17 L163.63,423.16 L164.50,423.10 L165.26,422.99 L165.92,422.85 L166.50,422.68 L167.03,422.48 L167.52,422.25 L168.00,422.01 L168.49,421.76 L169.00,421.50 L169.52,421.23 L170.04,420.96 L170.54,420.66 L171.03,420.36 L171.52,420.03 L172.01,419.68 L172.50,419.30 L173.00,418.90 L173.50,418.47 L173.99,418.01 L174.48,417.53 L174.97,417.03 L175.47,416.51 L175.97,415.96 L176.48,415.39 L177.00,414.80 L177.50,414.24 L177.98,413.74 L178.44,413.25 L178.92,412.72 L179.43,412.11 L180.00,411.36 L180.65,410.44 L181.40,409.30 L182.28,407.88 L183.29,406.20 L184.38,404.34 L185.53,402.35 L186.69,400.30 L187.83,398.27 L188.91,396.31 L189.90,394.50 L190.82,392.78 L191.71,391.07 L192.57,389.39 L193.40,387.74 L194.19,386.15 L194.94,384.62 L195.64,383.16 L196.30,381.80 L196.90,380.54 L197.43,379.37 L197.92,378.29 L198.36,377.26 L198.78,376.29 L199.19,375.35 L199.59,374.42 L200.00,373.50 L200.41,372.60 L200.80,371.73 L201.18,370.90 L201.54,370.09 L201.91,369.30 L202.27,368.53 L202.63,367.76 L203.00,367.00 L203.38,366.24 L203.75,365.49 L204.12,364.75 L204.50,364.02 L204.88,363.31 L205.25,362.62 L205.62,361.95 L206.00,361.30 L206.38,360.67 L206.75,360.07 L207.12,359.48 L207.50,358.91 L207.88,358.36 L208.25,357.83 L208.62,357.31 L209.00,356.80 L209.37,356.31 L209.74,355.83 L210.10,355.37 L210.47,354.93 L210.84,354.50 L211.21,354.08 L211.60,353.68 L212.00,353.30 L212.41,352.93 L212.84,352.57 L213.28,352.23 L213.72,351.90 L214.17,351.59 L214.61,351.30 L215.06,351.04 L215.50,350.80 L215.94,350.58 L216.38,350.39 L216.81,350.21 L217.25,350.06 L217.69,349.93 L218.12,349.82 L218.56,349.75 L219.00,349.70 L219.44,349.69 L219.88,349.71 L220.31,349.76 L220.75,349.83 L221.19,349.93 L221.62,350.04 L222.06,350.17 L222.50,350.30 L222.91,350.42 L223.27,350.52 L223.62,350.63 L223.97,350.76 L224.37,350.93 L224.82,351.16 L225.35,351.48 L226.00,351.90 L226.77,352.44 L227.65,353.08 L228.61,353.80 L229.64,354.59 L230.70,355.42 L231.78,356.28 L232.85,357.14 L233.90,358.00 L234.93,358.86 L235.99,359.73 L237.05,360.63 L238.12,361.55 L239.19,362.49 L240.27,363.44 L241.34,364.41 L242.40,365.40 L243.45,366.37 L244.50,367.30 L245.55,368.23 L246.60,369.19 L247.65,370.20 L248.70,371.31 L249.75,372.53 L250.80,373.90 L251.86,375.45 L252.92,377.15 L253.98,378.98 L255.04,380.90 L256.11,382.87 L257.17,384.85 L258.24,386.80 L259.30,388.70 L260.36,390.58 L261.43,392.50 L262.49,394.43 L263.55,396.35 L264.61,398.25 L265.68,400.10 L266.74,401.89 L267.80,403.60 L268.90,405.26 L270.04,406.92 L271.20,408.54 L272.35,410.11 L273.46,411.58 L274.51,412.94 L275.47,414.16 L276.30,415.20 L276.97,416.01 L277.50,416.59 L277.92,417.00 L278.28,417.31 L278.63,417.57 L279.00,417.87 L279.44,418.26 L280.00,418.80 L280.67,419.51 L281.41,420.31 L282.21,421.19 L283.04,422.11 L283.89,423.03 L284.74,423.92 L285.59,424.76 L286.40,425.50 L287.18,426.16 L287.93,426.79 L288.67,427.37 L289.42,427.91 L290.18,428.42 L290.97,428.91 L291.81,429.37 L292.70,429.80 L293.64,430.20 L294.62,430.57 L295.63,430.90 L296.68,431.21 L297.76,431.49 L298.88,431.77 L300.02,432.03 L301.20,432.30 L302.38,432.56 L303.55,432.81 L304.74,433.05 L305.98,433.27 L307.27,433.49 L308.66,433.70 L310.16,433.90 L311.80,434.10 L313.61,434.29 L315.58,434.46 L317.68,434.62 L319.86,434.78 L322.09,434.93 L324.33,435.09 L326.54,435.24 L328.70,435.40" stroke="#000000"/>
<path d="M77.00,435.60 L79.90,435.49 L82.82,435.38 L85.76,435.27 L88.69,435.16 L91.59,435.05 L94.46,434.94 L97.27,434.82 L100.00,434.70 L102.66,434.57 L105.28,434.43 L107.85,434.29 L110.38,434.15 L112.85,434.01 L115.28,433.87 L117.66,433.73 L120.00,433.60 L122.30,433.48 L124.56,433.38 L126.78,433.27 L128.96,433.18 L131.07,433.07 L133.12,432.96 L135.10,432.84 L137.00,432.70 L138.79,432.56 L140.48,432.42 L142.08,432.29 L143.62,432.14 L145.13,431.96 L146.63,431.76 L148.14,431.51 L149.70,431.20 L151.32,430.84 L152.98,430.43 L154.65,429.97 L156.32,429.49 L157.95,428.97 L159.53,428.43 L161.02,427.87 L162.40,427.30 L163.66,426.73 L164.80,426.15 L165.86,425.55 L166.86,424.93 L167.83,424.28 L168.79,423.58 L169.77,422.82 L170.80,422.00 L171.86,421.12 L172.92,420.20 L173.98,419.22 L175.04,418.20 L176.11,417.13 L177.17,416.00 L178.24,414.83 L179.30,413.60 L180.36,412.30 L181.43,410.93 L182.49,409.50 L183.55,408.02 L184.61,406.51 L185.68,404.97 L186.74,403.43 L187.80,401.90 L188.90,400.31 L190.04,398.62 L191.20,396.88 L192.35,395.14 L193.46,393.46 L194.51,391.87 L195.47,390.44 L196.30,389.20 L196.99,388.21 L197.54,387.43 L198.00,386.80 L198.39,386.28 L198.75,385.79 L199.12,385.29 L199.52,384.71 L200.00,384.00 L200.54,383.17 L201.11,382.26 L201.71,381.31 L202.31,380.33 L202.92,379.34 L203.53,378.36 L204.12,377.41 L204.70,376.50 L205.26,375.63 L205.81,374.76 L206.35,373.91 L206.88,373.08 L207.41,372.27 L207.94,371.48 L208.47,370.72 L209.00,370.00 L209.53,369.31 L210.07,368.64 L210.60,367.99 L211.13,367.38 L211.66,366.79 L212.18,366.23 L212.69,365.70 L213.20,365.20 L213.69,364.74 L214.17,364.31 L214.64,363.91 L215.10,363.54 L215.56,363.20 L216.03,362.88 L216.51,362.58 L217.00,362.30 L217.51,362.04 L218.03,361.79 L218.56,361.57 L219.10,361.37 L219.64,361.19 L220.17,361.04 L220.69,360.91 L221.20,360.80 L221.69,360.72 L222.16,360.68 L222.61,360.65 L223.07,360.66 L223.53,360.68 L224.00,360.71 L224.48,360.75 L225.00,360.80 L225.55,360.85 L226.12,360.92 L226.71,360.99 L227.32,361.08 L227.93,361.18 L228.53,361.30 L229.13,361.44 L229.70,361.60 L230.26,361.79 L230.81,362.01 L231.35,362.25 L231.89,362.51 L232.42,362.77 L232.95,363.03 L233.47,363.27 L234.00,363.50 L234.52,363.71 L235.04,363.92 L235.56,364.13 L236.07,364.33 L236.59,364.52 L237.09,364.70 L237.60,364.86 L238.10,365.00 L238.59,365.12 L239.07,365.22 L239.55,365.31 L240.02,365.38 L240.50,365.44 L240.98,365.50 L241.48,365.55 L242.00,365.60 L242.54,365.65 L243.11,365.68 L243.68,365.71 L244.27,365.74 L244.86,365.76 L245.45,365.77 L246.03,365.79 L246.60,365.80 L247.16,365.80 L247.72,365.80 L248.28,365.78 L248.83,365.77 L249.38,365.76 L249.93,365.76 L250.47,365.77 L251.00,365.80 L251.53,365.85 L252.06,365.90 L252.59,365.95 L253.11,366.03 L253.63,366.11 L254.13,366.22 L254.62,366.35 L255.10,366.50 L255.56,366.68 L256.01,366.88 L256.45,367.10 L256.88,367.34 L257.29,367.60 L257.70,367.88 L258.10,368.18 L258.50,368.50 L258.86,368.80 L259.18,369.06 L259.47,369.32 L259.76,369.61 L260.08,369.97 L260.44,370.43 L260.87,371.03 L261.40,371.80 L262.03,372.78 L262.75,373.94 L263.54,375.24 L264.38,376.64 L265.25,378.10 L266.12,379.58 L266.98,381.03 L267.80,382.40 L268.60,383.72 L269.41,385.05 L270.23,386.37 L271.04,387.69 L271.84,389.01 L272.64,390.34 L273.43,391.67 L274.20,393.00 L274.95,394.35 L275.68,395.73 L276.39,397.11 L277.10,398.50 L277.81,399.87 L278.52,401.22 L279.25,402.53 L280.00,403.80 L280.77,405.02 L281.56,406.21 L282.36,407.36 L283.17,408.49 L283.98,409.60 L284.79,410.68 L285.60,411.75 L286.40,412.80 L287.18,413.83 L287.93,414.84 L288.67,415.82 L289.42,416.79 L290.18,417.74 L290.97,418.67 L291.81,419.59 L292.70,420.50 L293.66,421.41 L294.67,422.33 L295.73,423.23 L296.81,424.12 L297.92,424.99 L299.02,425.81 L300.12,426.59 L301.20,427.30 L302.26,427.96 L303.33,428.57 L304.39,429.13 L305.46,429.66 L306.52,430.14 L307.58,430.59 L308.64,431.01 L309.70,431.40 L310.73,431.75 L311.71,432.04 L312.67,432.30 L313.64,432.52 L314.64,432.72 L315.70,432.91 L316.84,433.10 L318.10,433.30 L319.45,433.50 L320.87,433.70 L322.36,433.89 L323.91,434.07 L325.53,434.25 L327.22,434.41 L328.98,434.56 L330.80,434.70 L332.76,434.82 L334.87,434.94 L337.10,435.04 L339.37,435.12 L341.63,435.20 L343.83,435.28 L345.90,435.34 L347.80,435.40 L349.51,435.45 L351.08,435.49 L352.55,435.51 L353.94,435.53 L355.29,435.55 L356.63,435.56 L357.99,435.58 L359.40,435.60" stroke="#ff0000"/>
<path d="M117.30,435.60 L119.26,435.52 L121.26,435.46 L123.29,435.41 L125.30,435.35 L127.28,435.28 L129.19,435.19 L131.00,435.06 L132.70,434.90 L134.25,434.70 L135.69,434.48 L137.03,434.24 L138.30,433.97 L139.54,433.67 L140.76,433.35 L142.01,432.99 L143.30,432.60 L144.62,432.17 L145.95,431.71 L147.28,431.21 L148.60,430.69 L149.93,430.14 L151.25,429.57 L152.58,428.99 L153.90,428.40 L155.22,427.80 L156.55,427.18 L157.88,426.54 L159.20,425.89 L160.53,425.22 L161.85,424.53 L163.18,423.82 L164.50,423.10 L165.82,422.35 L167.15,421.58 L168.47,420.78 L169.80,419.96 L171.12,419.14 L172.45,418.32 L173.78,417.50 L175.10,416.70 L176.42,415.92 L177.75,415.14 L179.07,414.38 L180.40,413.61 L181.72,412.84 L183.05,412.05 L184.38,411.24 L185.70,410.40 L187.07,409.50 L188.51,408.52 L189.98,407.51 L191.43,406.49 L192.83,405.50 L194.14,404.57 L195.31,403.72 L196.30,403.00 L197.09,402.43 L197.69,402.00 L198.15,401.66 L198.52,401.38 L198.84,401.11 L199.17,400.82 L199.54,400.46 L200.00,400.00 L200.55,399.42 L201.13,398.77 L201.73,398.05 L202.34,397.31 L202.96,396.56 L203.56,395.83 L204.15,395.13 L204.70,394.50 L205.21,393.95 L205.69,393.46 L206.15,393.00 L206.60,392.57 L207.05,392.12 L207.51,391.65 L207.99,391.11 L208.50,390.50 L209.05,389.79 L209.64,389.01 L210.24,388.18 L210.86,387.31 L211.47,386.43 L212.07,385.55 L212.65,384.70 L213.20,383.90 L213.71,383.13 L214.21,382.38 L214.69,381.65 L215.15,380.92 L215.60,380.21 L216.04,379.50 L216.47,378.80 L216.90,378.10 L217.30,377.43 L217.66,376.79 L218.01,376.17 L218.34,375.56 L218.70,374.92 L219.08,374.24 L219.51,373.51 L220.00,372.70 L220.56,371.80 L221.16,370.81 L221.81,369.76 L222.49,368.68 L223.20,367.58 L223.93,366.49 L224.66,365.42 L225.40,364.40 L226.17,363.39 L227.00,362.35 L227.87,361.30 L228.74,360.28 L229.59,359.30 L230.40,358.40 L231.15,357.59 L231.80,356.90 L232.35,356.35 L232.83,355.91 L233.24,355.57 L233.61,355.31 L233.95,355.09 L234.28,354.90 L234.63,354.71 L235.00,354.50 L235.39,354.28 L235.79,354.07 L236.18,353.88 L236.57,353.71 L236.96,353.56 L237.34,353.44 L237.72,353.35 L238.10,353.30 L238.47,353.29 L238.82,353.31 L239.18,353.37 L239.52,353.46 L239.88,353.57 L240.24,353.70 L240.61,353.84 L241.00,354.00 L241.39,354.13 L241.77,354.24 L242.15,354.33 L242.54,354.46 L242.96,354.65 L243.41,354.93 L243.92,355.34 L244.50,355.90 L245.15,356.63 L245.88,357.51 L246.65,358.51 L247.47,359.61 L248.31,360.77 L249.15,361.97 L249.99,363.19 L250.80,364.40 L251.62,365.67 L252.48,367.07 L253.35,368.53 L254.22,370.01 L255.06,371.45 L255.85,372.80 L256.57,374.00 L257.20,375.00 L257.72,375.78 L258.13,376.39 L258.48,376.86 L258.77,377.24 L259.05,377.55 L259.33,377.84 L259.64,378.14 L260.00,378.50 L260.38,378.87 L260.73,379.21 L261.08,379.54 L261.45,379.85 L261.86,380.17 L262.34,380.51 L262.91,380.88 L263.60,381.30 L264.42,381.76 L265.36,382.25 L266.39,382.77 L267.49,383.31 L268.63,383.87 L269.78,384.44 L270.91,385.02 L272.00,385.60 L273.08,386.18 L274.18,386.78 L275.29,387.38 L276.41,387.99 L277.50,388.62 L278.56,389.26 L279.56,389.92 L280.50,390.60 L281.38,391.32 L282.24,392.08 L283.05,392.87 L283.82,393.68 L284.54,394.47 L285.22,395.23 L285.84,395.95 L286.40,396.60 L286.88,397.17 L287.26,397.66 L287.57,398.10 L287.84,398.52 L288.09,398.93 L288.35,399.37 L288.64,399.85 L289.00,400.40 L289.42,401.04 L289.87,401.76 L290.36,402.53 L290.85,403.31 L291.34,404.09 L291.83,404.83 L292.28,405.51 L292.70,406.10 L293.06,406.55 L293.35,406.89 L293.61,407.14 L293.86,407.37 L294.13,407.61 L294.44,407.92 L294.82,408.33 L295.30,408.90 L295.86,409.63 L296.48,410.48 L297.16,411.43 L297.88,412.44 L298.65,413.50 L299.46,414.58 L300.32,415.66 L301.20,416.70 L302.14,417.75 L303.14,418.84 L304.20,419.95 L305.29,421.07 L306.41,422.17 L307.52,423.24 L308.62,424.26 L309.70,425.20 L310.75,426.08 L311.80,426.93 L312.85,427.73 L313.90,428.49 L314.95,429.21 L316.00,429.89 L317.05,430.52 L318.10,431.10 L319.14,431.63 L320.17,432.09 L321.19,432.51 L322.21,432.89 L323.25,433.23 L324.33,433.54 L325.44,433.83 L326.60,434.10 L327.85,434.35 L329.20,434.57 L330.61,434.76 L332.03,434.93 L333.44,435.07 L334.80,435.19 L336.06,435.30 L337.20,435.40 L338.20,435.48 L339.10,435.53 L339.91,435.56 L340.66,435.57 L341.38,435.57 L342.10,435.58 L342.83,435.58 L343.60,435.60" stroke="#0000ff"/>
<path d="M48.50,435.60 L50.10,435.52 L51.72,435.46 L53.35,435.40 L54.98,435.34 L56.59,435.27 L58.17,435.17 L59.71,435.05 L61.20,434.90 L62.63,434.73 L64.00,434.56 L65.33,434.37 L66.63,434.16 L67.92,433.91 L69.20,433.60 L70.49,433.24 L71.80,432.80 L73.12,432.28 L74.45,431.69 L75.77,431.04 L77.10,430.33 L78.42,429.59 L79.75,428.81 L81.08,428.01 L82.40,427.20 L83.73,426.37 L85.05,425.50 L86.38,424.61 L87.70,423.68 L89.03,422.73 L90.35,421.77 L91.68,420.79 L93.00,419.80 L94.34,418.80 L95.70,417.80 L97.07,416.78 L98.44,415.74 L99.79,414.68 L101.10,413.59 L102.38,412.47 L103.60,411.30 L104.76,410.10 L105.86,408.87 L106.92,407.62 L107.94,406.33 L108.95,405.01 L109.96,403.65 L110.97,402.25 L112.00,400.80 L113.06,399.28 L114.13,397.67 L115.21,396.01 L116.28,394.32 L117.34,392.62 L118.37,390.95 L119.36,389.34 L120.30,387.80 L121.18,386.31 L122.01,384.82 L122.80,383.36 L123.57,381.94 L124.32,380.57 L125.06,379.28 L125.82,378.09 L126.60,377.00 L127.39,376.03 L128.17,375.15 L128.94,374.37 L129.73,373.66 L130.52,373.02 L131.32,372.43 L132.15,371.90 L133.00,371.40 L133.87,370.96 L134.76,370.61 L135.66,370.32 L136.57,370.08 L137.51,369.88 L138.48,369.69 L139.47,369.50 L140.50,369.30 L141.58,369.11 L142.72,368.97 L143.90,368.84 L145.09,368.73 L146.29,368.60 L147.47,368.45 L148.61,368.25 L149.70,368.00 L150.75,367.67 L151.80,367.27 L152.84,366.83 L153.84,366.36 L154.81,365.89 L155.71,365.44 L156.55,365.04 L157.30,364.70 L157.95,364.43 L158.50,364.21 L158.98,364.02 L159.41,363.86 L159.80,363.71 L160.18,363.58 L160.57,363.44 L161.00,363.30 L161.45,363.15 L161.89,363.01 L162.33,362.87 L162.76,362.74 L163.20,362.61 L163.63,362.50 L164.06,362.39 L164.50,362.30 L164.94,362.22 L165.39,362.14 L165.83,362.08 L166.28,362.02 L166.72,361.98 L167.16,361.94 L167.59,361.92 L168.00,361.90 L168.40,361.89 L168.79,361.89 L169.16,361.89 L169.53,361.91 L169.90,361.93 L170.26,361.97 L170.63,362.03 L171.00,362.10 L171.37,362.19 L171.74,362.28 L172.10,362.39 L172.47,362.52 L172.84,362.66 L173.21,362.82 L173.60,363.00 L174.00,363.20 L174.40,363.40 L174.80,363.59 L175.20,363.79 L175.61,364.01 L176.04,364.28 L176.49,364.60 L176.98,365.00 L177.50,365.50 L178.06,366.08 L178.64,366.71 L179.26,367.40 L179.89,368.16 L180.56,368.99 L181.25,369.90 L181.96,370.91 L182.70,372.00 L183.49,373.24 L184.33,374.64 L185.21,376.15 L186.11,377.72 L187.00,379.33 L187.88,380.90 L188.72,382.41 L189.50,383.80 L190.22,385.08 L190.89,386.30 L191.52,387.47 L192.14,388.60 L192.74,389.72 L193.34,390.83 L193.96,391.95 L194.60,393.10 L195.27,394.29 L195.97,395.52 L196.69,396.77 L197.40,398.01 L198.10,399.22 L198.78,400.39 L199.41,401.49 L200.00,402.50 L200.53,403.42 L201.01,404.26 L201.46,405.04 L201.88,405.77 L202.29,406.47 L202.68,407.15 L203.09,407.82 L203.50,408.50 L203.92,409.17 L204.33,409.82 L204.73,410.45 L205.13,411.07 L205.53,411.68 L205.94,412.28 L206.36,412.89 L206.80,413.50 L207.24,414.13 L207.69,414.77 L208.15,415.42 L208.61,416.07 L209.09,416.70 L209.58,417.30 L210.08,417.87 L210.60,418.40 L211.15,418.88 L211.73,419.34 L212.34,419.76 L212.95,420.16 L213.56,420.53 L214.17,420.87 L214.75,421.20 L215.30,421.50 L215.77,421.76 L216.15,421.95 L216.49,422.11 L216.83,422.26 L217.22,422.40 L217.69,422.58 L218.31,422.80 L219.10,423.10 L220.10,423.47 L221.27,423.90 L222.58,424.36 L223.97,424.86 L225.43,425.38 L226.89,425.90 L228.33,426.41 L229.70,426.90 L231.03,427.38 L232.35,427.88 L233.68,428.38 L235.01,428.88 L236.33,429.37 L237.66,429.84 L238.98,430.29 L240.30,430.70 L241.62,431.09 L242.93,431.47 L244.24,431.82 L245.55,432.16 L246.86,432.47 L248.17,432.75 L249.48,433.00 L250.80,433.20 L252.12,433.36 L253.44,433.48 L254.77,433.57 L256.09,433.62 L257.42,433.64 L258.75,433.65 L260.07,433.63 L261.40,433.60 L262.72,433.54 L264.05,433.45 L265.38,433.33 L266.70,433.19 L268.02,433.04 L269.35,432.89 L270.67,432.74 L272.00,432.60 L273.36,432.46 L274.76,432.30 L276.18,432.14 L277.59,431.98 L278.97,431.83 L280.28,431.69 L281.50,431.58 L282.60,431.50 L283.55,431.45 L284.35,431.41 L285.05,431.39 L285.69,431.39 L286.31,431.41 L286.96,431.45 L287.68,431.51 L288.50,431.60 L289.42,431.72 L290.37,431.87 L291.37,432.06 L292.41,432.26 L293.48,432.47 L294.59,432.69 L295.73,432.90 L296.90,433.10 L298.06,433.30 L299.20,433.51 L300.34,433.72 L301.53,433.94 L302.81,434.15 L304.20,434.35 L305.75,434.53 L307.50,434.70 L309.48,434.85 L311.68,434.97 L314.04,435.09 L316.52,435.19 L319.06,435.29 L321.63,435.39 L324.15,435.49 L326.60,435.60" stroke="#ffa500"/>
<path d="M90.80,435.60 L93.23,435.50 L95.70,435.39 L98.18,435.29 L100.66,435.18 L103.11,435.08 L105.50,434.98 L107.80,434.89 L110.00,434.80 L112.07,434.72 L114.02,434.63 L115.88,434.55 L117.69,434.47 L119.47,434.40 L121.26,434.35 L123.10,434.31 L125.00,434.30 L126.96,434.32 L128.95,434.37 L130.96,434.44 L132.98,434.52 L135.02,434.61 L137.07,434.69 L139.13,434.76 L141.20,434.80 L143.32,434.84 L145.52,434.89 L147.76,434.94 L150.00,434.97 L152.19,434.98 L154.30,434.95 L156.28,434.86 L158.10,434.70 L159.73,434.47 L161.19,434.19 L162.54,433.85 L163.79,433.47 L165.00,433.06 L166.20,432.60 L167.42,432.11 L168.70,431.60 L170.04,431.04 L171.40,430.43 L172.77,429.77 L174.13,429.09 L175.48,428.38 L176.80,427.68 L178.08,426.98 L179.30,426.30 L180.46,425.66 L181.57,425.04 L182.64,424.43 L183.68,423.82 L184.70,423.19 L185.72,422.51 L186.75,421.79 L187.80,421.00 L188.88,420.11 L189.99,419.13 L191.11,418.09 L192.23,417.01 L193.32,415.94 L194.37,414.89 L195.37,413.90 L196.30,413.00 L197.13,412.21 L197.88,411.50 L198.57,410.84 L199.22,410.22 L199.86,409.60 L200.52,408.96 L201.23,408.27 L202.00,407.50 L202.84,406.68 L203.73,405.84 L204.64,404.98 L205.58,404.08 L206.54,403.14 L207.50,402.15 L208.45,401.11 L209.40,400.00 L210.35,398.79 L211.30,397.48 L212.27,396.09 L213.24,394.66 L214.20,393.23 L215.15,391.82 L216.09,390.46 L217.00,389.20 L217.90,388.03 L218.80,386.91 L219.68,385.84 L220.56,384.81 L221.41,383.79 L222.24,382.77 L223.04,381.75 L223.80,380.70 L224.51,379.67 L225.15,378.69 L225.76,377.74 L226.35,376.77 L226.94,375.76 L227.55,374.68 L228.19,373.51 L228.90,372.20 L229.67,370.72 L230.48,369.08 L231.33,367.32 L232.19,365.50 L233.08,363.67 L233.96,361.87 L234.84,360.17 L235.70,358.60 L236.57,357.12 L237.48,355.65 L238.40,354.22 L239.31,352.86 L240.19,351.58 L241.03,350.41 L241.81,349.37 L242.50,348.50 L243.09,347.81 L243.60,347.31 L244.04,346.95 L244.44,346.69 L244.81,346.51 L245.18,346.36 L245.57,346.20 L246.00,346.00 L246.46,345.77 L246.93,345.56 L247.41,345.36 L247.89,345.18 L248.37,345.03 L248.85,344.91 L249.33,344.84 L249.80,344.80 L250.27,344.81 L250.73,344.86 L251.19,344.94 L251.66,345.06 L252.12,345.20 L252.58,345.38 L253.04,345.58 L253.50,345.80 L253.93,346.00 L254.31,346.17 L254.68,346.34 L255.05,346.55 L255.46,346.83 L255.94,347.23 L256.51,347.77 L257.20,348.50 L258.03,349.43 L258.99,350.55 L260.04,351.80 L261.15,353.17 L262.30,354.62 L263.46,356.12 L264.60,357.62 L265.70,359.10 L266.78,360.61 L267.89,362.22 L269.01,363.88 L270.12,365.57 L271.21,367.24 L272.26,368.86 L273.27,370.39 L274.20,371.80 L275.05,373.06 L275.83,374.21 L276.55,375.26 L277.23,376.27 L277.90,377.26 L278.57,378.27 L279.26,379.34 L280.00,380.50 L280.77,381.74 L281.56,383.03 L282.36,384.36 L283.17,385.71 L283.98,387.09 L284.79,388.49 L285.60,389.89 L286.40,391.30 L287.21,392.75 L288.03,394.28 L288.86,395.85 L289.68,397.41 L290.49,398.95 L291.27,400.41 L292.01,401.78 L292.70,403.00 L293.33,404.08 L293.92,405.05 L294.46,405.93 L294.98,406.73 L295.48,407.48 L295.98,408.20 L296.48,408.90 L297.00,409.60 L297.50,410.28 L297.96,410.91 L298.40,411.51 L298.84,412.08 L299.32,412.64 L299.86,413.20 L300.47,413.78 L301.20,414.40 L302.05,415.04 L303.00,415.69 L304.04,416.34 L305.14,417.01 L306.27,417.68 L307.40,418.37 L308.52,419.08 L309.60,419.80 L310.65,420.55 L311.70,421.34 L312.75,422.14 L313.80,422.96 L314.85,423.77 L315.90,424.57 L316.95,425.35 L318.00,426.10 L319.05,426.83 L320.10,427.55 L321.15,428.26 L322.20,428.96 L323.25,429.62 L324.30,430.26 L325.35,430.85 L326.40,431.40 L327.44,431.90 L328.46,432.36 L329.47,432.79 L330.49,433.17 L331.52,433.53 L332.57,433.85 L333.66,434.14 L334.80,434.40 L336.00,434.62 L337.25,434.79 L338.54,434.92 L339.85,435.02 L341.17,435.11 L342.48,435.17 L343.76,435.24 L345.00,435.30 L346.20,435.36 L347.37,435.40 L348.52,435.43 L349.66,435.44 L350.79,435.46 L351.92,435.47 L353.06,435.48 L354.20,435.50" stroke="#ff00ff"/>
<path d="M396.30,435.30 L396.52,435.15 L396.74,435.01 L396.96,434.88 L397.18,434.75 L397.40,434.60 L397.61,434.44 L397.81,434.24 L398.00,434.00 L398.18,433.72 L398.34,433.42 L398.50,433.08 L398.64,432.72 L398.79,432.35 L398.93,431.95 L399.06,431.53 L399.20,431.10 L399.34,430.65 L399.47,430.17 L399.59,429.66 L399.72,429.14 L399.84,428.61 L399.96,428.07 L400.08,427.54 L400.20,427.00 L400.32,426.45 L400.44,425.86 L400.56,425.26 L400.68,424.66 L400.80,424.07 L400.91,423.52 L401.01,423.03 L401.10,422.60 L401.18,422.24 L401.26,421.94 L401.32,421.68 L401.38,421.46 L401.44,421.27 L401.49,421.10 L401.55,420.95 L401.60,420.80 L401.65,420.66 L401.70,420.54 L401.75,420.44 L401.79,420.36 L401.84,420.31 L401.89,420.28 L401.94,420.27 L402.00,420.30 L402.06,420.36 L402.13,420.44 L402.20,420.55 L402.28,420.68 L402.35,420.84 L402.43,421.03 L402.51,421.25 L402.60,421.50 L402.69,421.76 L402.77,422.02 L402.85,422.29 L402.94,422.60 L403.04,422.96 L403.15,423.38 L403.27,423.89 L403.40,424.50 L403.56,425.27 L403.74,426.21 L403.95,427.27 L404.16,428.38 L404.37,429.48 L404.56,430.51 L404.75,431.40 L404.90,432.10 L405.03,432.60 L405.13,432.97 L405.23,433.22 L405.31,433.39 L405.38,433.50 L405.45,433.59 L405.52,433.68 L405.60,433.80 L405.68,433.94 L405.75,434.06 L405.83,434.17 L405.90,434.26 L405.97,434.33 L406.05,434.38 L406.12,434.40 L406.20,434.40 L406.28,434.38 L406.37,434.34 L406.45,434.28 L406.54,434.19 L406.63,434.08 L406.72,433.93 L406.81,433.74 L406.90,433.50 L406.99,433.24 L407.06,432.97 L407.14,432.67 L407.22,432.33 L407.31,431.93 L407.41,431.45 L407.54,430.88 L407.70,430.20 L407.90,429.33 L408.14,428.27 L408.41,427.08 L408.69,425.83 L408.98,424.58 L409.25,423.42 L409.49,422.40 L409.70,421.60 L409.86,421.02 L410.00,420.60 L410.11,420.30 L410.21,420.09 L410.30,419.94 L410.39,419.82 L410.49,419.68 L410.60,419.50 L410.72,419.29 L410.85,419.10 L410.97,418.92 L411.10,418.75 L411.23,418.59 L411.35,418.45 L411.48,418.32 L411.60,418.20 L411.72,418.10 L411.83,418.00 L411.94,417.93 L412.05,417.86 L412.16,417.81 L412.27,417.76 L412.38,417.73 L412.50,417.70 L412.62,417.68 L412.75,417.66 L412.87,417.65 L413.00,417.66 L413.13,417.67 L413.25,417.70 L413.38,417.74 L413.50,417.80 L413.62,417.88 L413.73,417.97 L413.84,418.07 L413.95,418.19 L414.06,418.33 L414.17,418.47 L414.28,418.63 L414.40,418.80 L414.51,418.95 L414.62,419.06 L414.73,419.16 L414.84,419.28 L414.95,419.46 L415.08,419.72 L415.23,420.09 L415.40,420.60 L415.60,421.32 L415.84,422.26 L416.10,423.33 L416.38,424.47 L416.64,425.61 L416.90,426.67 L417.12,427.59 L417.30,428.30 L417.44,428.79 L417.54,429.14 L417.62,429.36 L417.69,429.51 L417.74,429.59 L417.79,429.65 L417.84,429.71 L417.90,429.80 L417.97,429.91 L418.03,430.01 L418.09,430.09 L418.15,430.15 L418.21,430.19 L418.27,430.22 L418.33,430.22 L418.40,430.20 L418.47,430.16 L418.54,430.11 L418.61,430.05 L418.68,429.96 L418.76,429.84 L418.83,429.70 L418.91,429.52 L419.00,429.30 L419.09,429.05 L419.17,428.77 L419.26,428.47 L419.36,428.13 L419.45,427.76 L419.56,427.35 L419.67,426.90 L419.80,426.40 L419.94,425.81 L420.10,425.12 L420.28,424.36 L420.46,423.57 L420.63,422.80 L420.81,422.09 L420.96,421.47 L421.10,421.00 L421.22,420.68 L421.32,420.46 L421.41,420.33 L421.49,420.27 L421.57,420.25 L421.65,420.24 L421.72,420.24 L421.80,420.20 L421.88,420.15 L421.96,420.11 L422.03,420.09 L422.11,420.08 L422.18,420.07 L422.25,420.07 L422.33,420.08 L422.40,420.10 L422.47,420.13 L422.55,420.16 L422.62,420.21 L422.70,420.26 L422.77,420.32 L422.85,420.38 L422.92,420.44 L423.00,420.50 L423.08,420.57 L423.15,420.65 L423.23,420.73 L423.31,420.82 L423.38,420.90 L423.46,420.96 L423.53,420.99 L423.60,421.00 L423.67,420.98 L423.73,420.95 L423.80,420.90 L423.86,420.84 L423.92,420.75 L423.98,420.63 L424.04,420.48 L424.10,420.30 L424.15,420.18 L424.19,420.17 L424.23,420.18 L424.27,420.14 L424.31,419.96 L424.36,419.56 L424.42,418.87 L424.50,417.80 L424.60,416.33 L424.71,414.53 L424.84,412.45 L424.97,410.14 L425.11,407.66 L425.24,405.06 L425.38,402.39 L425.50,399.70 L425.62,396.91 L425.73,393.93 L425.84,390.81 L425.95,387.60 L426.06,384.36 L426.17,381.12 L426.28,377.95 L426.40,374.90 L426.50,372.41 L426.58,370.61 L426.65,369.12 L426.73,367.52 L426.83,365.42 L426.96,362.40 L427.15,358.06 L427.40,352.00 L427.73,343.77 L428.14,333.56 L428.61,321.93 L429.11,309.44 L429.62,296.65 L430.12,284.10 L430.58,272.37 L431.00,262.00 L431.37,252.91 L431.70,244.53 L432.02,236.70 L432.32,229.25 L432.61,222.02 L432.90,214.84 L433.20,207.56 L433.50,200.00" stroke="#00ff00"/>
<path d="M446.50,200.00 L446.61,207.56 L446.72,214.84 L446.82,222.02 L446.93,229.25 L447.03,236.70 L447.15,244.53 L447.27,252.91 L447.40,262.00 L447.55,272.33 L447.70,283.97 L447.87,296.40 L448.04,309.09 L448.22,321.52 L448.39,333.16 L448.55,343.50 L448.70,352.00 L448.84,358.51 L448.97,363.47 L449.10,367.22 L449.22,370.14 L449.35,372.57 L449.46,374.89 L449.58,377.44 L449.70,380.60 L449.82,384.25 L449.93,388.02 L450.04,391.83 L450.15,395.61 L450.26,399.31 L450.37,402.85 L450.48,406.17 L450.60,409.20 L450.72,411.97 L450.84,414.55 L450.97,416.95 L451.09,419.18 L451.22,421.23 L451.35,423.11 L451.47,424.84 L451.60,426.40 L451.72,427.76 L451.84,428.90 L451.96,429.84 L452.08,430.63 L452.20,431.31 L452.33,431.90 L452.46,432.45 L452.60,433.00 L452.75,433.49 L452.90,433.88 L453.07,434.18 L453.23,434.42 L453.40,434.63 L453.57,434.83 L453.74,435.04 L453.90,435.30" stroke="#00ff00"/>
</g>
<rect x="30.25" y="262.3" width="441.25" height="180.3" fill="none" stroke="#000" stroke-width="1"/>
<line x1="46.50" y1="442.6" x2="46.50" y2="448.6" stroke="#000" stroke-width="1"/>
<text transform="translate(46.50,463.45) scale(1,1.03)" text-anchor="middle" class="t">0.0</text>
<line x1="128.36" y1="442.6" x2="128.36" y2="448.6" stroke="#000" stroke-width="1"/>
<text transform="translate(128.36,463.45) scale(1,1.03)" text-anchor="middle" class="t">0.2</text>
<line x1="210.22" y1="442.6" x2="210.22" y2="448.6" stroke="#000" stroke-width="1"/>
<text transform="translate(210.22,463.45) scale(1,1.03)" text-anchor="middle" class="t">0.4</text>
<line x1="292.08" y1="442.6" x2="292.08" y2="448.6" stroke="#000" stroke-width="1"/>
<text transform="translate(292.08,463.45) scale(1,1.03)" text-anchor="middle" class="t">0.6</text>
<line x1="373.94" y1="442.6" x2="373.94" y2="448.6" stroke="#000" stroke-width="1"/>
<text transform="translate(373.94,463.45) scale(1,1.03)" text-anchor="middle" class="t">0.8</text>
<line x1="455.80" y1="442.6" x2="455.80" y2="448.6" stroke="#000" stroke-width="1"/>
<text transform="translate(455.80,463.45) scale(1,1.03)" text-anchor="middle" class="t">1.0</text>
<line x1="24.25" y1="435.50" x2="30.25" y2="435.50" stroke="#000" stroke-width="1"/>
<text transform="translate(21.7,435.50) rotate(-90) scale(1,1.03)" text-anchor="middle" class="t">0</text>
<line x1="24.25" y1="402.22" x2="30.25" y2="402.22" stroke="#000" stroke-width="1"/>
<text transform="translate(21.7,402.22) rotate(-90) scale(1,1.03)" text-anchor="middle" class="t">2</text>
<line x1="24.25" y1="368.94" x2="30.25" y2="368.94" stroke="#000" stroke-width="1"/>
<text transform="translate(21.7,368.94) rotate(-90) scale(1,1.03)" text-anchor="middle" class="t">4</text>
<line x1="24.25" y1="335.66" x2="30.25" y2="335.66" stroke="#000" stroke-width="1"/>
<text transform="translate(21.7,335.66) rotate(-90) scale(1,1.03)" text-anchor="middle" class="t">6</text>
<line x1="24.25" y1="302.38" x2="30.25" y2="302.38" stroke="#000" stroke-width="1"/>
<text transform="translate(21.7,302.38) rotate(-90) scale(1,1.03)" text-anchor="middle" class="t">8</text>
<line x1="24.25" y1="269.10" x2="30.25" y2="269.10" stroke="#000" stroke-width="1"/>
<text transform="translate(21.7,269.10) rotate(-90) scale(1,1.03)" text-anchor="middle" class="t">10</text>
<text transform="translate(7.5,352.45) rotate(-90) scale(1,1.03)" text-anchor="middle" class="t">Density</text>
<text transform="translate(251,474.40) scale(1,1.03)" text-anchor="middle" class="t">Accuracy</text>
<text transform="translate(251,259.30) scale(1,0.92)" text-anchor="middle" class="m">100 QTL</text>
</svg>
</body></html>
